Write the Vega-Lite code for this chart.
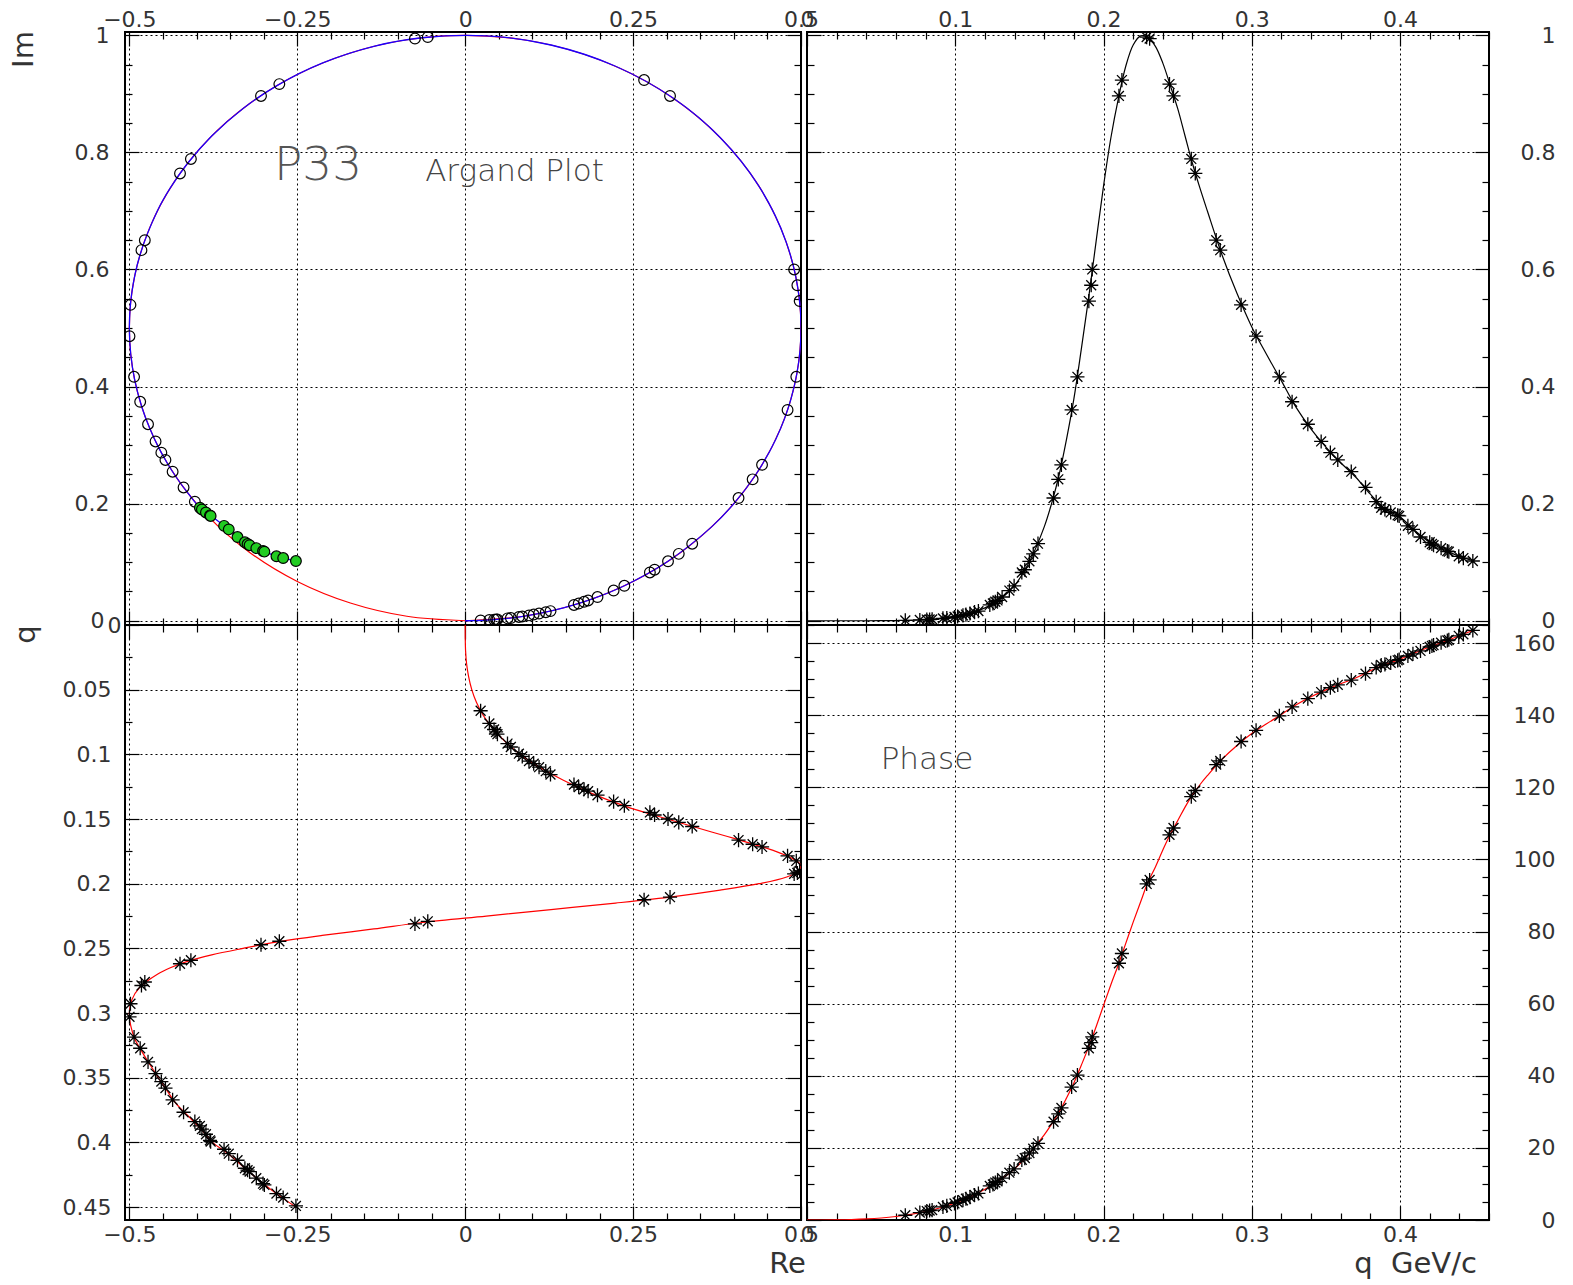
{
"$schema": "https://vega.github.io/schema/vega-lite/v6.json",
"background": "white",
"padding": {"left": 8, "top": 0, "right": 10, "bottom": 10},
"autosize": {"type": "pad"},
"config": {
  "view": {"stroke": "black", "strokeWidth": 2},
  "font": "DejaVu Sans",
  "axis": {"domain": false, "tickColor": "black", "tickWidth": 1.2, "labelFont": "DejaVu Sans", "labelFontSize": 22, "labelColor": "#333", "titleFont": "DejaVu Sans", "titleFontSize": 29, "titleFontWeight": "normal", "titleColor": "#333", "gridColor": "black", "gridDash": [2, 3], "gridWidth": 1, "labelFlush": false, "labelOverlap": false, "labelBound": false, "format": "~g"}
},
"datasets": {
  "pts": [
    {"q":0.0663,"Re":0.023,"Im":0.0005,"ph":1.32},
    {"q":0.0761,"Re":0.036,"Im":0.0013,"ph":2.06},
    {"q":0.0808,"Re":0.043,"Im":0.0019,"ph":2.47},
    {"q":0.0827,"Re":0.046,"Im":0.0021,"ph":2.64},
    {"q":0.0844,"Re":0.048,"Im":0.0023,"ph":2.75},
    {"q":0.0917,"Re":0.063,"Im":0.004,"ph":3.62},
    {"q":0.0943,"Re":0.068,"Im":0.0046,"ph":3.91},
    {"q":0.0995,"Re":0.08,"Im":0.0064,"ph":4.6},
    {"q":0.1016,"Re":0.085,"Im":0.0073,"ph":4.89},
    {"q":0.1052,"Re":0.095,"Im":0.0091,"ph":5.48},
    {"q":0.1072,"Re":0.102,"Im":0.0105,"ph":5.89},
    {"q":0.1099,"Re":0.11,"Im":0.0123,"ph":6.36},
    {"q":0.113,"Re":0.12,"Im":0.0146,"ph":6.94},
    {"q":0.1156,"Re":0.127,"Im":0.0164,"ph":7.36},
    {"q":0.1233,"Re":0.162,"Im":0.027,"ph":9.45},
    {"q":0.1254,"Re":0.169,"Im":0.0294,"ph":9.88},
    {"q":0.127,"Re":0.177,"Im":0.0324,"ph":10.37},
    {"q":0.1285,"Re":0.183,"Im":0.0347,"ph":10.73},
    {"q":0.1316,"Re":0.197,"Im":0.0405,"ph":11.6},
    {"q":0.1365,"Re":0.221,"Im":0.0515,"ph":13.12},
    {"q":0.1397,"Re":0.237,"Im":0.0597,"ph":14.15},
    {"q":0.1449,"Re":0.275,"Im":0.0824,"ph":16.69},
    {"q":0.1469,"Re":0.282,"Im":0.0871,"ph":17.17},
    {"q":0.15,"Re":0.302,"Im":0.1015,"ph":18.58},
    {"q":0.1526,"Re":0.318,"Im":0.1142,"ph":19.75},
    {"q":0.1558,"Re":0.338,"Im":0.1316,"ph":21.27},
    {"q":0.1663,"Re":0.407,"Im":0.2096,"ph":27.25},
    {"q":0.1695,"Re":0.428,"Im":0.2415,"ph":29.44},
    {"q":0.1716,"Re":0.442,"Im":0.2663,"ph":31.07},
    {"q":0.1785,"Re":0.48,"Im":0.36,"ph":36.87},
    {"q":0.1824,"Re":0.493,"Im":0.4166,"ph":40.2},
    {"q":0.1901,"Re":0.498,"Im":0.546,"ph":47.6},
    {"q":0.1917,"Re":0.4946,"Im":0.573,"ph":49.2},
    {"q":0.1924,"Re":0.4898,"Im":0.6,"ph":50.8},
    {"q":0.2104,"Re":0.305,"Im":0.8964,"ph":71.2},
    {"q":0.2124,"Re":0.2664,"Im":0.9235,"ph":73.9},
    {"q":0.2291,"Re":-0.0557,"Im":0.9969,"ph":93.2},
    {"q":0.2311,"Re":-0.0748,"Im":0.9944,"ph":94.3},
    {"q":0.2445,"Re":-0.2767,"Im":0.9166,"ph":106.8},
    {"q":0.2472,"Re":-0.304,"Im":0.8964,"ph":108.7},
    {"q":0.2592,"Re":-0.4084,"Im":0.7888,"ph":117.4},
    {"q":0.2619,"Re":-0.4246,"Im":0.764,"ph":119.1},
    {"q":0.276,"Re":-0.477,"Im":0.65,"ph":126.3},
    {"q":0.2787,"Re":-0.482,"Im":0.633,"ph":127.3},
    {"q":0.2928,"Re":-0.4984,"Im":0.5395,"ph":132.7},
    {"q":0.3029,"Re":-0.4998,"Im":0.486,"ph":135.8},
    {"q":0.3186,"Re":-0.493,"Im":0.4166,"ph":139.8},
    {"q":0.3272,"Re":-0.4839,"Im":0.374,"ph":142.3},
    {"q":0.3378,"Re":-0.4722,"Im":0.3356,"ph":144.6},
    {"q":0.3468,"Re":-0.461,"Im":0.3062,"ph":146.4},
    {"q":0.353,"Re":-0.4524,"Im":0.2871,"ph":147.6},
    {"q":0.358,"Re":-0.4463,"Im":0.2746,"ph":148.4},
    {"q":0.3671,"Re":-0.4356,"Im":0.2546,"ph":149.7},
    {"q":0.3767,"Re":-0.4193,"Im":0.2277,"ph":151.5},
    {"q":0.3839,"Re":-0.4025,"Im":0.2033,"ph":153.2},
    {"q":0.3873,"Re":-0.395,"Im":0.193,"ph":153.9},
    {"q":0.3898,"Re":-0.392,"Im":0.19,"ph":154.1},
    {"q":0.3937,"Re":-0.386,"Im":0.185,"ph":154.5},
    {"q":0.3984,"Re":-0.38,"Im":0.18,"ph":155.2},
    {"q":0.3994,"Re":-0.379,"Im":0.179,"ph":155.4},
    {"q":0.4053,"Re":-0.359,"Im":0.162,"ph":156.4},
    {"q":0.4087,"Re":-0.352,"Im":0.156,"ph":157.0},
    {"q":0.4138,"Re":-0.339,"Im":0.143,"ph":157.8},
    {"q":0.42,"Re":-0.328,"Im":0.134,"ph":158.9},
    {"q":0.4215,"Re":-0.324,"Im":0.131,"ph":159.2},
    {"q":0.4226,"Re":-0.321,"Im":0.129,"ph":159.4},
    {"q":0.4277,"Re":-0.311,"Im":0.124,"ph":160.1},
    {"q":0.4319,"Re":-0.301,"Im":0.119,"ph":160.7},
    {"q":0.4329,"Re":-0.299,"Im":0.118,"ph":160.9},
    {"q":0.4396,"Re":-0.281,"Im":0.11,"ph":162.0},
    {"q":0.4427,"Re":-0.271,"Im":0.107,"ph":162.4},
    {"q":0.4491,"Re":-0.252,"Im":0.102,"ph":163.5}
  ],
  "fit": [
    {"q":0,"Re":0,"Im":0,"ph":0},
    {"q":0.01,"Re":0.0001,"Im":0,"ph":0.005},
    {"q":0.02,"Re":0.0006,"Im":0,"ph":0.036},
    {"q":0.03,"Re":0.0021,"Im":0,"ph":0.12},
    {"q":0.04,"Re":0.0051,"Im":0,"ph":0.29},
    {"q":0.05,"Re":0.0098,"Im":0.0001,"ph":0.56},
    {"q":0.06,"Re":0.0169,"Im":0.0003,"ph":0.97},
    {"q":0.07,"Re":0.027,"Im":0.0007,"ph":1.55},
    {"q":0.08,"Re":0.041,"Im":0.0017,"ph":2.35},
    {"q":0.09,"Re":0.0592,"Im":0.0035,"ph":3.4},
    {"q":0.1,"Re":0.0817,"Im":0.0067,"ph":4.7},
    {"q":0.11,"Re":0.1108,"Im":0.0124,"ph":6.4},
    {"q":0.12,"Re":0.1462,"Im":0.0219,"ph":8.5},
    {"q":0.13,"Re":0.1873,"Im":0.0364,"ph":11.0},
    {"q":0.14,"Re":0.2378,"Im":0.0602,"ph":14.2},
    {"q":0.15,"Re":0.3009,"Im":0.1007,"ph":18.5},
    {"q":0.16,"Re":0.3669,"Im":0.1603,"ph":23.6},
    {"q":0.165,"Re":0.4004,"Im":0.2005,"ph":26.6},
    {"q":0.17,"Re":0.4321,"Im":0.2485,"ph":29.9},
    {"q":0.175,"Re":0.4623,"Im":0.3095,"ph":33.8},
    {"q":0.18,"Re":0.4851,"Im":0.379,"ph":38.0},
    {"q":0.185,"Re":0.4987,"Im":0.4634,"ph":42.9},
    {"q":0.19,"Re":0.4973,"Im":0.5523,"ph":48.0},
    {"q":0.195,"Re":0.4776,"Im":0.6479,"ph":53.6},
    {"q":0.2,"Re":0.4373,"Im":0.7424,"ph":59.5},
    {"q":0.205,"Re":0.3796,"Im":0.8254,"ph":65.3},
    {"q":0.21,"Re":0.3106,"Im":0.8919,"ph":70.8},
    {"q":0.215,"Re":0.2239,"Im":0.9471,"ph":76.7},
    {"q":0.22,"Re":0.1277,"Im":0.9834,"ph":82.6},
    {"q":0.225,"Re":0.0314,"Im":0.999,"ph":88.2},
    {"q":0.23,"Re":-0.0644,"Im":0.9958,"ph":93.7},
    {"q":0.235,"Re":-0.1361,"Im":0.9811,"ph":97.9},
    {"q":0.24,"Re":-0.2129,"Im":0.9524,"ph":102.6},
    {"q":0.245,"Re":-0.2796,"Im":0.9145,"ph":107.0},
    {"q":0.25,"Re":-0.3307,"Im":0.8751,"ph":110.7},
    {"q":0.255,"Re":-0.3774,"Im":0.828,"ph":114.5},
    {"q":0.26,"Re":-0.4135,"Im":0.781,"ph":117.9},
    {"q":0.265,"Re":-0.439,"Im":0.7393,"ph":120.7},
    {"q":0.27,"Re":-0.4582,"Im":0.7002,"ph":123.2},
    {"q":0.28,"Re":-0.4843,"Im":0.6243,"ph":127.8},
    {"q":0.29,"Re":-0.4965,"Im":0.5592,"ph":131.6},
    {"q":0.3,"Re":-0.5,"Im":0.5018,"ph":134.9},
    {"q":0.31,"Re":-0.4979,"Im":0.4547,"ph":137.6},
    {"q":0.32,"Re":-0.4918,"Im":0.4097,"ph":140.2},
    {"q":0.33,"Re":-0.4811,"Im":0.3639,"ph":142.9},
    {"q":0.34,"Re":-0.4692,"Im":0.3274,"ph":145.1},
    {"q":0.35,"Re":-0.4568,"Im":0.2966,"ph":147.0},
    {"q":0.36,"Re":-0.4439,"Im":0.2699,"ph":148.7},
    {"q":0.37,"Re":-0.4304,"Im":0.2455,"ph":150.3},
    {"q":0.38,"Re":-0.4116,"Im":0.2161,"ph":152.3},
    {"q":0.39,"Re":-0.393,"Im":0.191,"ph":154.0},
    {"q":0.4,"Re":-0.376,"Im":0.177,"ph":155.5},
    {"q":0.41,"Re":-0.35,"Im":0.154,"ph":157.3},
    {"q":0.42,"Re":-0.328,"Im":0.134,"ph":158.9},
    {"q":0.43,"Re":-0.305,"Im":0.121,"ph":160.4},
    {"q":0.44,"Re":-0.28,"Im":0.11,"ph":162.0},
    {"q":0.45,"Re":-0.252,"Im":0.102,"ph":163.7}
  ],
  "circ": [
    {"d":0,"Re":0,"Im":0},{"d":5,"Re":0.0868,"Im":0.0076},{"d":10,"Re":0.171,"Im":0.0302},{"d":15,"Re":0.25,"Im":0.067},
    {"d":20,"Re":0.3214,"Im":0.117},{"d":25,"Re":0.383,"Im":0.1786},{"d":30,"Re":0.433,"Im":0.25},{"d":35,"Re":0.4698,"Im":0.329},
    {"d":40,"Re":0.4924,"Im":0.4132},{"d":45,"Re":0.5,"Im":0.5},{"d":50,"Re":0.4924,"Im":0.5868},{"d":55,"Re":0.4698,"Im":0.671},
    {"d":60,"Re":0.433,"Im":0.75},{"d":65,"Re":0.383,"Im":0.8214},{"d":70,"Re":0.3214,"Im":0.883},{"d":75,"Re":0.25,"Im":0.933},
    {"d":80,"Re":0.171,"Im":0.9698},{"d":85,"Re":0.0868,"Im":0.9924},{"d":90,"Re":0,"Im":1},{"d":95,"Re":-0.0868,"Im":0.9924},
    {"d":100,"Re":-0.171,"Im":0.9698},{"d":105,"Re":-0.25,"Im":0.933},{"d":110,"Re":-0.3214,"Im":0.883},{"d":115,"Re":-0.383,"Im":0.8214},
    {"d":120,"Re":-0.433,"Im":0.75},{"d":125,"Re":-0.4698,"Im":0.671},{"d":130,"Re":-0.4924,"Im":0.5868},{"d":135,"Re":-0.5,"Im":0.5},
    {"d":140,"Re":-0.4924,"Im":0.4132},{"d":145,"Re":-0.4698,"Im":0.329},{"d":150,"Re":-0.433,"Im":0.25},{"d":155,"Re":-0.383,"Im":0.1786},
    {"d":160,"Re":-0.3214,"Im":0.117},{"d":165,"Re":-0.25,"Im":0.067},{"d":170,"Re":-0.171,"Im":0.0302},{"d":175,"Re":-0.0868,"Im":0.0076},
    {"d":180,"Re":0,"Im":0}
  ]
},
"columns": 2,
"align": "each",
"bounds": "flush",
"spacing": {"row": 0, "column": 6},
"concat": [
  {
    "width": 676, "height": 593,
    "layer": [
      {
        "data": {"name": "circ"},
        "mark": {"type": "line", "color": "#ff0000", "strokeWidth": 1.2, "clip": true, "interpolate": "catmull-rom"},
        "encoding": {
          "x": {"field": "Re", "type": "quantitative", "scale": {"domain": [-0.5065, 0.5], "nice": false, "zero": false},
                "axis": {"orient": "top", "values": [-0.5,-0.45,-0.4,-0.35,-0.3,-0.25,-0.2,-0.15,-0.1,-0.05,0,0.05,0.1,0.15,0.2,0.25,0.3,0.35,0.4,0.45,0.5],
                  "labelExpr": "indexof([-0.5,-0.25,0,0.25,0.5],datum.value)>=0?datum.label:''",
                  "tickSize": {"condition": {"test": "indexof([-0.5,-0.25,0,0.25,0.5],datum.value)>=0", "value": -14}, "value": -7},
                  "labelPadding": 20, "labelBaseline": "alphabetic", "grid": true,
                  "gridOpacity": {"condition": {"test": "indexof([-0.5,-0.25,0,0.25,0.5],datum.value)>=0", "value": 1}, "value": 0},
                  "title": null}},
          "y": {"field": "Im", "type": "quantitative", "scale": {"domain": [-0.0073, 1.0056], "nice": false, "zero": false},
                "axis": {"orient": "left", "values": [0,0.05,0.1,0.15,0.2,0.25,0.3,0.35,0.4,0.45,0.5,0.55,0.6,0.65,0.7,0.75,0.8,0.85,0.9,0.95,1],
                  "labelExpr": "indexof([0,0.2,0.4,0.6,0.8,1],datum.value)>=0?datum.label:''",
                  "tickSize": {"condition": {"test": "indexof([0,0.2,0.4,0.6,0.8,1],datum.value)>=0", "value": -14}, "value": -7},
                  "labelPadding": {"condition": {"test": "datum.value===0", "value": 35}, "value": 30}, "grid": true,
                  "gridOpacity": {"condition": {"test": "indexof([0,0.2,0.4,0.6,0.8,1],datum.value)>=0", "value": 1}, "value": 0},
                  "title": "Im", "titleX": -102, "titleY": 17, "titleAngle": 270, "titleAlign": "center", "titleBaseline": "middle"}},
          "order": {"field": "d", "type": "quantitative"}
        }
      },
      {
        "data": {"name": "fit"},
        "mark": {"type": "line", "color": "#1a00ff", "strokeWidth": 1.3, "clip": true, "interpolate": "catmull-rom"},
        "encoding": {
          "x": {"field": "Re", "type": "quantitative", "scale": {"domain": [-0.5065, 0.5], "nice": false, "zero": false},
                "axis": {"orient": "bottom", "values": [-0.5,-0.45,-0.4,-0.35,-0.3,-0.25,-0.2,-0.15,-0.1,-0.05,0,0.05,0.1,0.15,0.2,0.25,0.3,0.35,0.4,0.45,0.5],
                  "labels": false, "grid": false, "title": null,
                  "tickSize": {"condition": {"test": "indexof([-0.5,-0.25,0,0.25,0.5],datum.value)>=0", "value": -14}, "value": -7}}},
          "y": {"field": "Im", "type": "quantitative", "scale": {"domain": [-0.0073, 1.0056], "nice": false, "zero": false},
                "axis": {"orient": "right", "values": [0,0.05,0.1,0.15,0.2,0.25,0.3,0.35,0.4,0.45,0.5,0.55,0.6,0.65,0.7,0.75,0.8,0.85,0.9,0.95,1],
                  "labels": false, "grid": false, "title": null,
                  "tickSize": {"condition": {"test": "indexof([0,0.2,0.4,0.6,0.8,1],datum.value)>=0", "value": -14}, "value": -7}}},
          "order": {"field": "q", "type": "quantitative"}
        }
      },
      {
        "data": {"name": "pts"},
        "mark": {"type": "point", "shape": "circle", "size": 115, "filled": true, "stroke": "black", "strokeWidth": 1.2, "opacity": 1, "clip": true},
        "encoding": {
          "x": {"field": "Re", "type": "quantitative", "scale": {"domain": [-0.5065, 0.5], "nice": false, "zero": false}, "axis": null},
          "y": {"field": "Im", "type": "quantitative", "scale": {"domain": [-0.0073, 1.0056], "nice": false, "zero": false}, "axis": null},
          "fill": {"condition": {"test": "datum.q > 0.386", "value": "#22cc22"}, "value": "transparent"}
        }
      },
      {
        "data": {"values": [{}]},
        "mark": {"type": "text", "text": "P33", "fontSize": 47, "color": "#555", "font": "DejaVu Sans", "fontWeight": 200},
        "encoding": {
          "x": {"datum": -0.219, "type": "quantitative", "scale": {"domain": [-0.5065, 0.5], "nice": false, "zero": false}, "axis": null},
          "y": {"datum": 0.776, "type": "quantitative", "scale": {"domain": [-0.0073, 1.0056], "nice": false, "zero": false}, "axis": null}
        }
      },
      {
        "data": {"values": [{}]},
        "mark": {"type": "text", "text": "Argand Plot", "fontSize": 31, "color": "#444", "font": "DejaVu Sans", "fontWeight": 200},
        "encoding": {
          "x": {"datum": 0.0734, "type": "quantitative", "scale": {"domain": [-0.5065, 0.5], "nice": false, "zero": false}, "axis": null},
          "y": {"datum": 0.766, "type": "quantitative", "scale": {"domain": [-0.0073, 1.0056], "nice": false, "zero": false}, "axis": null}
        }
      }
    ],
    "resolve": {"axis": {"x": "independent", "y": "independent"}}
  },
  {
    "width": 682, "height": 593,
    "layer": [
      {
        "data": {"name": "fit"},
        "mark": {"type": "line", "color": "#000000", "strokeWidth": 1.2, "clip": true, "interpolate": "catmull-rom"},
        "encoding": {
          "x": {"field": "q", "type": "quantitative", "scale": {"domain": [0, 0.46], "nice": false, "zero": false},
                "axis": {"orient": "top", "values": [0,0.02,0.04,0.06,0.08,0.1,0.12,0.14,0.16,0.18,0.2,0.22,0.24,0.26,0.28,0.3,0.32,0.34,0.36,0.38,0.4,0.42,0.44,0.46],
                  "labelExpr": "indexof([0,0.1,0.2,0.3,0.4],datum.value)>=0?datum.label:''",
                  "tickSize": {"condition": {"test": "indexof([0,0.1,0.2,0.3,0.4],datum.value)>=0", "value": -14}, "value": -7},
                  "labelPadding": 20, "labelBaseline": "alphabetic", "grid": true,
                  "gridOpacity": {"condition": {"test": "indexof([0,0.1,0.2,0.3,0.4],datum.value)>=0", "value": 1}, "value": 0},
                  "title": null}},
          "y": {"field": "Im", "type": "quantitative", "scale": {"domain": [-0.0073, 1.0056], "nice": false, "zero": false},
                "axis": {"orient": "right", "values": [0,0.05,0.1,0.15,0.2,0.25,0.3,0.35,0.4,0.45,0.5,0.55,0.6,0.65,0.7,0.75,0.8,0.85,0.9,0.95,1],
                  "labelExpr": "indexof([0,0.2,0.4,0.6,0.8,1],datum.value)>=0?datum.label:''",
                  "tickSize": {"condition": {"test": "indexof([0,0.2,0.4,0.6,0.8,1],datum.value)>=0", "value": -14}, "value": -7},
                  "labelPadding": 80, "labelAlign": "right", "grid": true,
                  "gridOpacity": {"condition": {"test": "indexof([0,0.2,0.4,0.6,0.8,1],datum.value)>=0", "value": 1}, "value": 0},
                  "title": null}},
          "order": {"field": "q", "type": "quantitative"}
        }
      },
      {
        "data": {"name": "pts"},
        "mark": {"type": "point", "shape": "M-1,0L1,0M0,-1L0,1M-0.7,-0.7L0.7,0.7M-0.7,0.7L0.7,-0.7", "size": 200, "filled": false, "color": "black", "strokeWidth": 1.3, "opacity": 1, "clip": true},
        "encoding": {
          "x": {"field": "q", "type": "quantitative", "scale": {"domain": [0, 0.46], "nice": false, "zero": false},
                "axis": {"orient": "bottom", "values": [0,0.02,0.04,0.06,0.08,0.1,0.12,0.14,0.16,0.18,0.2,0.22,0.24,0.26,0.28,0.3,0.32,0.34,0.36,0.38,0.4,0.42,0.44,0.46],
                  "labels": false, "grid": false, "title": null,
                  "tickSize": {"condition": {"test": "indexof([0,0.1,0.2,0.3,0.4],datum.value)>=0", "value": -14}, "value": -7}}},
          "y": {"field": "Im", "type": "quantitative", "scale": {"domain": [-0.0073, 1.0056], "nice": false, "zero": false},
                "axis": {"orient": "left", "values": [0,0.05,0.1,0.15,0.2,0.25,0.3,0.35,0.4,0.45,0.5,0.55,0.6,0.65,0.7,0.75,0.8,0.85,0.9,0.95,1],
                  "labels": false, "grid": false, "title": null,
                  "tickSize": {"condition": {"test": "indexof([0,0.2,0.4,0.6,0.8,1],datum.value)>=0", "value": -14}, "value": -7}}}
        }
      }
    ],
    "resolve": {"axis": {"x": "independent", "y": "independent"}}
  },
  {
    "width": 676, "height": 595,
    "layer": [
      {
        "data": {"name": "fit"},
        "mark": {"type": "line", "color": "#ff0000", "strokeWidth": 1.2, "clip": true, "interpolate": "catmull-rom"},
        "encoding": {
          "x": {"field": "Re", "type": "quantitative", "scale": {"domain": [-0.5065, 0.5], "nice": false, "zero": false},
                "axis": {"orient": "bottom", "values": [-0.5,-0.45,-0.4,-0.35,-0.3,-0.25,-0.2,-0.15,-0.1,-0.05,0,0.05,0.1,0.15,0.2,0.25,0.3,0.35,0.4,0.45,0.5],
                  "labelExpr": "indexof([-0.5,-0.25,0,0.25,0.5],datum.value)>=0?datum.label:''",
                  "tickSize": {"condition": {"test": "indexof([-0.5,-0.25,0,0.25,0.5],datum.value)>=0", "value": -14}, "value": -7},
                  "labelPadding": 18, "labelBaseline": "top", "grid": true,
                  "gridOpacity": {"condition": {"test": "indexof([-0.5,-0.25,0,0.25,0.5],datum.value)>=0", "value": 1}, "value": 0},
                  "title": "Re", "titleX": 662, "titleY": 43, "titleAlign": "center", "titleBaseline": "middle", "titleAngle": 0}},
          "y": {"field": "q", "type": "quantitative", "scale": {"domain": [0, 0.46], "nice": false, "zero": false, "reverse": true},
                "axis": {"orient": "left", "values": [0,0.025,0.05,0.075,0.1,0.125,0.15,0.175,0.2,0.225,0.25,0.275,0.3,0.325,0.35,0.375,0.4,0.425,0.45],
                  "labelExpr": "indexof([0,0.05,0.1,0.15,0.2,0.25,0.3,0.35,0.4,0.45],datum.value)>=0?datum.label:''",
                  "tickSize": {"condition": {"test": "indexof([0,0.05,0.1,0.15,0.2,0.25,0.3,0.35,0.4,0.45],datum.value)>=0", "value": -14}, "value": -7},
                  "labelPadding": {"condition": {"test": "datum.value===0", "value": 18}, "value": 28}, "grid": true,
                  "gridOpacity": {"condition": {"test": "indexof([0,0.05,0.1,0.15,0.2,0.25,0.3,0.35,0.4,0.45],datum.value)>=0", "value": 1}, "value": 0},
                  "title": "q", "titleX": -100, "titleY": 9, "titleAngle": 270, "titleAlign": "center", "titleBaseline": "middle"}},
          "order": {"field": "q", "type": "quantitative"}
        }
      },
      {
        "data": {"name": "pts"},
        "mark": {"type": "point", "shape": "M-1,0L1,0M0,-1L0,1M-0.7,-0.7L0.7,0.7M-0.7,0.7L0.7,-0.7", "size": 200, "filled": false, "color": "black", "strokeWidth": 1.3, "opacity": 1, "clip": true},
        "encoding": {
          "x": {"field": "Re", "type": "quantitative", "scale": {"domain": [-0.5065, 0.5], "nice": false, "zero": false},
                "axis": {"orient": "top", "values": [-0.5,-0.45,-0.4,-0.35,-0.3,-0.25,-0.2,-0.15,-0.1,-0.05,0,0.05,0.1,0.15,0.2,0.25,0.3,0.35,0.4,0.45,0.5],
                  "labels": false, "grid": false, "title": null,
                  "tickSize": {"condition": {"test": "indexof([-0.5,-0.25,0,0.25,0.5],datum.value)>=0", "value": -14}, "value": -7}}},
          "y": {"field": "q", "type": "quantitative", "scale": {"domain": [0, 0.46], "nice": false, "zero": false, "reverse": true},
                "axis": {"orient": "right", "values": [0,0.025,0.05,0.075,0.1,0.125,0.15,0.175,0.2,0.225,0.25,0.275,0.3,0.325,0.35,0.375,0.4,0.425,0.45],
                  "labels": false, "grid": false, "title": null,
                  "tickSize": {"condition": {"test": "indexof([0,0.05,0.1,0.15,0.2,0.25,0.3,0.35,0.4,0.45],datum.value)>=0", "value": -14}, "value": -7}}}
        }
      }
    ],
    "resolve": {"axis": {"x": "independent", "y": "independent"}}
  },
  {
    "width": 682, "height": 595,
    "layer": [
      {
        "data": {"name": "fit"},
        "mark": {"type": "line", "color": "#ff0000", "strokeWidth": 1.2, "clip": true, "interpolate": "catmull-rom"},
        "encoding": {
          "x": {"field": "q", "type": "quantitative", "scale": {"domain": [0, 0.46], "nice": false, "zero": false},
                "axis": {"orient": "bottom", "values": [0,0.02,0.04,0.06,0.08,0.1,0.12,0.14,0.16,0.18,0.2,0.22,0.24,0.26,0.28,0.3,0.32,0.34,0.36,0.38,0.4,0.42,0.44,0.46],
                  "labelExpr": "indexof([0,0.1,0.2,0.3,0.4],datum.value)>=0?datum.label:''",
                  "tickSize": {"condition": {"test": "indexof([0,0.1,0.2,0.3,0.4],datum.value)>=0", "value": -14}, "value": -7},
                  "labelPadding": 18, "labelBaseline": "top", "grid": true,
                  "gridOpacity": {"condition": {"test": "indexof([0,0.1,0.2,0.3,0.4],datum.value)>=0", "value": 1}, "value": 0},
                  "title": "q\u00a0\u00a0GeV/c", "titleX": 608, "titleY": 43, "titleAlign": "center", "titleBaseline": "middle", "titleAngle": 0}},
          "y": {"field": "ph", "type": "quantitative", "scale": {"domain": [0, 165], "nice": false, "zero": false},
                "axis": {"orient": "right", "values": [0,5,10,15,20,25,30,35,40,45,50,55,60,65,70,75,80,85,90,95,100,105,110,115,120,125,130,135,140,145,150,155,160,165],
                  "labelExpr": "indexof([0,20,40,60,80,100,120,140,160],datum.value)>=0?datum.label:''",
                  "tickSize": {"condition": {"test": "indexof([0,20,40,60,80,100,120,140,160],datum.value)>=0", "value": -14}, "value": -7},
                  "labelPadding": 80, "labelAlign": "right", "grid": true,
                  "gridOpacity": {"condition": {"test": "indexof([0,20,40,60,80,100,120,140,160],datum.value)>=0", "value": 1}, "value": 0},
                  "title": null}},
          "order": {"field": "q", "type": "quantitative"}
        }
      },
      {
        "data": {"name": "pts"},
        "mark": {"type": "point", "shape": "M-1,0L1,0M0,-1L0,1M-0.7,-0.7L0.7,0.7M-0.7,0.7L0.7,-0.7", "size": 200, "filled": false, "color": "black", "strokeWidth": 1.3, "opacity": 1, "clip": true},
        "encoding": {
          "x": {"field": "q", "type": "quantitative", "scale": {"domain": [0, 0.46], "nice": false, "zero": false},
                "axis": {"orient": "top", "values": [0,0.02,0.04,0.06,0.08,0.1,0.12,0.14,0.16,0.18,0.2,0.22,0.24,0.26,0.28,0.3,0.32,0.34,0.36,0.38,0.4,0.42,0.44,0.46],
                  "labels": false, "grid": false, "title": null,
                  "tickSize": {"condition": {"test": "indexof([0,0.1,0.2,0.3,0.4],datum.value)>=0", "value": -14}, "value": -7}}},
          "y": {"field": "ph", "type": "quantitative", "scale": {"domain": [0, 165], "nice": false, "zero": false},
                "axis": {"orient": "left", "values": [0,5,10,15,20,25,30,35,40,45,50,55,60,65,70,75,80,85,90,95,100,105,110,115,120,125,130,135,140,145,150,155,160,165],
                  "labels": false, "grid": false, "title": null,
                  "tickSize": {"condition": {"test": "indexof([0,20,40,60,80,100,120,140,160],datum.value)>=0", "value": -14}, "value": -7}}}
        }
      },
      {
        "data": {"values": [{}]},
        "mark": {"type": "text", "text": "Phase", "fontSize": 31, "color": "#444", "font": "DejaVu Sans", "fontWeight": 200},
        "encoding": {
          "x": {"datum": 0.0809, "type": "quantitative", "scale": {"domain": [0, 0.46], "nice": false, "zero": false}, "axis": null},
          "y": {"datum": 127.5, "type": "quantitative", "scale": {"domain": [0, 165], "nice": false, "zero": false}, "axis": null}
        }
      }
    ],
    "resolve": {"axis": {"x": "independent", "y": "independent"}}
  }
]
}
